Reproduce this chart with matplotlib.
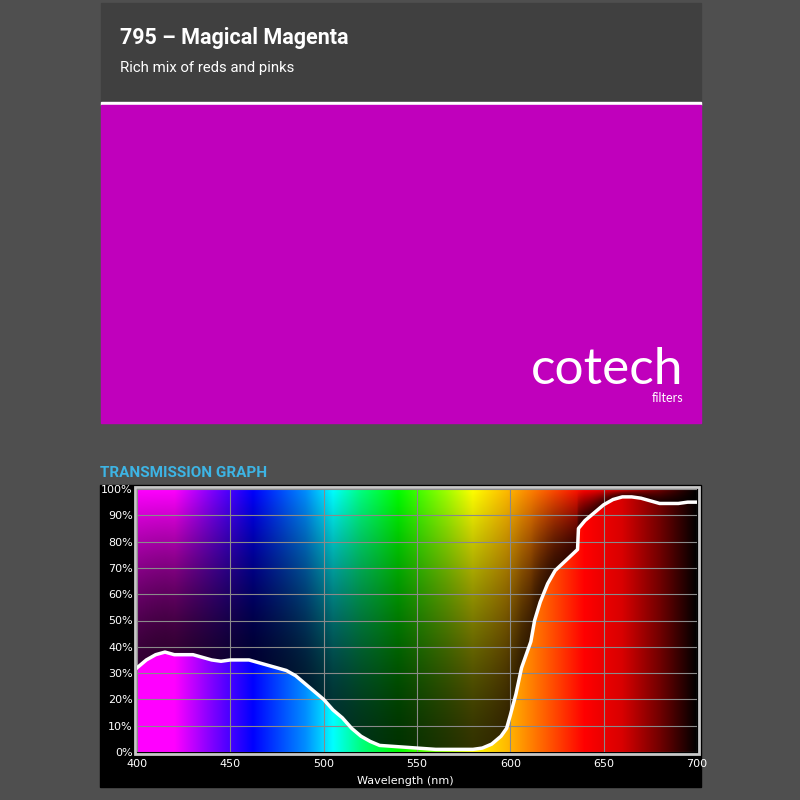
import matplotlib.pyplot as plt
import numpy as np
from matplotlib.patches import Rectangle

# transmission curve (wavelength nm, percent)
wavelength = [400, 405, 410, 415, 420, 430, 435, 440, 445, 450, 455, 460, 465, 470,
              475, 480, 485, 490, 495, 500, 505, 510, 515, 520, 525, 530, 540, 550,
              560, 570, 580, 585, 590, 595, 598, 600, 603, 606, 609, 611, 613, 616,
              620, 624, 630, 636, 636.5, 640, 645, 650, 655, 660, 665, 670, 675, 680,
              690, 695, 700]
transmission = [32, 35, 37, 38, 37, 37, 36, 35, 34.5, 35, 35, 35, 34, 33,
                32, 31, 29, 26, 23, 20, 16, 13, 9, 6, 4, 2.5, 2, 1.5,
                1, 1, 1, 1.5, 3, 6, 9, 14, 22, 32, 38, 42, 50, 57,
                64, 69, 73, 77, 85, 88, 91, 94, 96, 97, 97, 96.5, 95.5, 94.5,
                94.5, 95, 95]

# spectrum colour stops for the background
spec_nm = [400, 420, 440, 462, 490, 505, 520, 540, 565, 580, 600, 620, 640, 660, 680, 700]
spec_rgb = [(1, 0, 1), (1, 0, 1), (0.5, 0, 1), (0, 0, 1), (0, 0.55, 1), (0, 1, 1),
            (0, 1, 0.5), (0, 1, 0), (0.6, 1, 0), (1, 1, 0), (1, 0.7, 0), (1, 0.35, 0),
            (1, 0, 0), (0.85, 0, 0), (0.45, 0, 0), (0, 0, 0)]

title = "795 – Magical Magenta"
subtitle = "Rich mix of reds and pinks"
yticks = list(range(0, 101, 10))
xticks = [400, 450, 500, 550, 600, 650, 700]

W, H = 800, 800
fig = plt.figure(figsize=(8, 8), dpi=100, facecolor="#4f4f4f")
bg = fig.add_axes([0, 0, 1, 1])
bg.set_xlim(0, W)
bg.set_ylim(H, 0)
bg.axis("off")

bg.add_patch(Rectangle((101, 3), 600, 99, color="#404040"))
bg.add_patch(Rectangle((101, 102), 600, 3, color="white"))
bg.add_patch(Rectangle((101, 105), 600, 318, color="#c000bc"))
bg.text(120, 38, title, color="white", fontsize=15.5, fontweight="bold",
        family="Roboto", va="center")
bg.text(120, 68, subtitle, color="white", fontsize=10.7, family="Roboto", va="center")
bg.text(683, 370, "cotech", color="white", fontsize=37, family="Lato",
        ha="right", va="center")
bg.text(683, 398, "filters", color="white", fontsize=9, family="Lato",
        ha="right", va="center")
bg.text(100, 473, "TRANSMISSION GRAPH", color="#3db4e4", fontsize=11,
        fontweight="bold", family="Roboto", va="center")
bg.add_patch(Rectangle((100, 485), 601, 302, color="black"))
bg.add_patch(Rectangle((135, 487), 564, 267, facecolor="none",
                       edgecolor="#c8c8c8", lw=2))

x0, x1, y0, y1 = 137, 697, 489, 752
ax = fig.add_axes([x0 / W, 1 - y1 / H, (x1 - x0) / W, (y1 - y0) / H])
ax.set_xlim(400, 700)
ax.set_ylim(0, 100)

# background image: spectral colour, bright below the curve, dimmed above
xs = np.linspace(400, 700, 600)
ys = np.linspace(0, 100, 300)
cols = np.stack([np.interp(xs, spec_nm, [c[i] for c in spec_rgb]) for i in range(3)], axis=1)
curve = np.interp(xs, wavelength, transmission)
Y = ys[:, None]
t = np.clip((Y - curve[None, :]) / np.maximum(100 - curve[None, :], 1), 0, 1)
bright = np.where(Y <= curve[None, :], 1.0, 0.2 + 0.8 * t ** 1.5)
img = cols[None, :, :] * bright[:, :, None]
ax.imshow(img, extent=[400, 700, 0, 100], origin="lower", aspect="auto", zorder=0)

ax.set_xticks(xticks)
ax.set_yticks(yticks)
ax.grid(True, color="#8a8a8a", lw=0.8)
ax.plot(wavelength, transmission, color="white", lw=2.5, zorder=3)
ax.set_yticklabels([f"{v}%" for v in yticks])
ax.tick_params(colors="white", labelsize=8, length=0)
ax.tick_params(axis="x", pad=5)
ax.tick_params(axis="y", pad=3)
for s in ax.spines.values():
    s.set_visible(False)
ax.set_xlabel("Wavelength (nm)", color="white", fontsize=8)
ax.xaxis.set_label_coords(0.48, -0.09)

fig.savefig("out.png", dpi=100, facecolor=fig.get_facecolor())
